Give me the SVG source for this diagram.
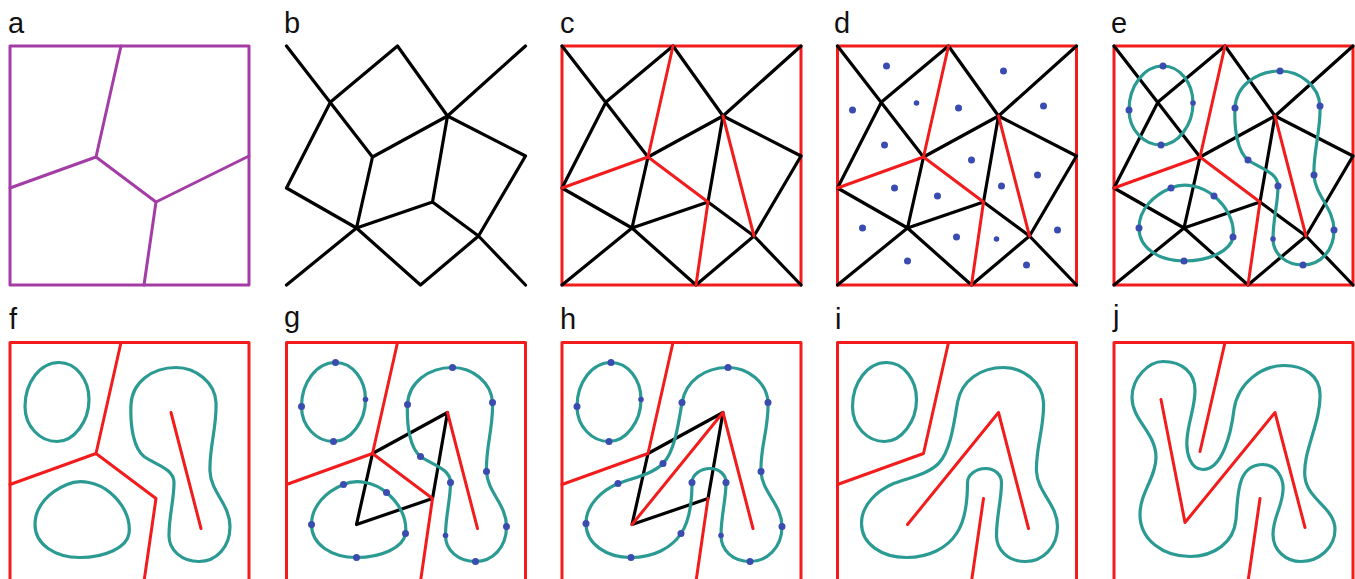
<svg xmlns="http://www.w3.org/2000/svg" xmlns:xlink="http://www.w3.org/1999/xlink" width="1355" height="579" viewBox="0 0 1355 579">
<style>
.lbl{font-family:"Liberation Sans",Arial,sans-serif;font-size:29px;fill:#111}
.k{stroke:#000;stroke-width:3.2;fill:none;stroke-linecap:round;stroke-linejoin:round}
.r{stroke:#f21c1c;stroke-width:3;fill:none;stroke-linecap:round;stroke-linejoin:round}
.p{stroke:#a43ca6;stroke-width:3;fill:none;stroke-linecap:round;stroke-linejoin:round}
.t{stroke:#2a9a93;stroke-width:3.2;fill:none}
.d{fill:#3a4cb0}
</style>
<defs>
<rect id="box" x="0" y="0" width="239" height="239"/>
<path id="mesh" d="M0,0L86,111 M44,56L111,0L161,70L239,0 M44,56L0,142L70,182 M86,111L161,70 M86,111L70,182 M161,70L146,156 M161,70L239,110L192,190 M146,156L70,182 M146,156L192,190L239,239 M70,182L0,239 M70,182L134,239L192,190"/>
<path id="vor" d="M111,0L86,111L0,142 M86,111L146,156L134,239"/>
<path id="quad" d="M86,111L161,70L146,156L70,182Z"/>
<path id="c1" d="M49,20C66,20 79,37 79,57C79,79 64,99 47,99C30,99 15,84 15,64C15,40 30,20 49,20Z"/>
<path id="c2" d="M166,25C186,25 205,40 206,60C207,85 199,105 200,129C201,150 220,162 220,184C220,205 206,219 189,219C172,219 159,208 159,193C159,173 164,158 164,140C164,126 145,122 134,114C124,106 120,85 121,62C122,40 142,25 166,25Z"/>
<path id="c3" d="M57,142C70,136 88,140 100,150C112,160 121,175 119,191C117,205 95,215 70,215C45,215 25,202 25,182C25,163 40,149 57,142Z"/>
<path id="cm" d="M166,25C186,25 205,40 206,60C207,85 198,105 199,129C200,150 220,162 220,184C220,205 205,219 188,219C171,219 159,208 159,193C159,173 164,158 164,140C164,132 157,126 148,126C139,126 130,132 130,140C130,160 128,178 119,191C110,205 92,215 69,215C45,215 24,202 24,181C24,162 40,148 56,141C72,135 90,132 101,121C112,110 116,85 120,60C124,38 143,25 166,25Z"/>
<path id="cj" d="M49,19C35,19 18,35 18,55C18,78 42,90 42,115C42,135 26,150 26,172C26,198 50,214 76,214C100,214 120,200 122,177C124,155 122,122 149,122C162,122 170,135 169,148C168,165 159,175 159,192C159,208 172,219 187,219C205,219 221,205 221,187C221,165 194,158 191,135C188,110 207,80 206,52C206,33 190,23 170,23C148,23 124,40 120,67C117,92 108,127 89,127C76,127 72,110 73,97C74,80 81,65 81,48C81,30 68,19 49,19Z"/>
<g id="dots1" class="d"><circle cx="49" cy="20" r="3.5"/><circle cx="79" cy="57" r="2.8"/><circle cx="47" cy="99" r="3.5"/><circle cx="15" cy="64" r="3.5"/></g>
<g id="dots2" class="d"><circle cx="166" cy="25" r="3.5"/><circle cx="206" cy="60" r="3.5"/><circle cx="121" cy="62" r="3.5"/><circle cx="134" cy="114" r="3.5"/><circle cx="200" cy="129" r="3.5"/><circle cx="164" cy="140" r="3.5"/><circle cx="220" cy="184" r="3.5"/><circle cx="159" cy="193" r="2.8"/><circle cx="189" cy="219" r="3.5"/></g>
<g id="dots3" class="d"><circle cx="57" cy="142" r="3.5"/><circle cx="100" cy="150" r="3.5"/><circle cx="25" cy="182" r="3.5"/><circle cx="119" cy="191" r="3.5"/><circle cx="70" cy="215" r="3.5"/></g>
<g id="dotsm" class="d"><circle cx="166" cy="25" r="3.5"/><circle cx="206" cy="60" r="3.5"/><circle cx="120" cy="60" r="3.5"/><circle cx="101" cy="121" r="3.5"/><circle cx="56" cy="141" r="3.5"/><circle cx="24" cy="181" r="3.5"/><circle cx="69" cy="215" r="3.5"/><circle cx="119" cy="191" r="3.5"/><circle cx="130" cy="140" r="3.5"/><circle cx="164" cy="140" r="3.5"/><circle cx="199" cy="129" r="3.5"/><circle cx="220" cy="184" r="3.5"/><circle cx="159" cy="193" r="2.8"/><circle cx="188" cy="219" r="3.5"/></g>
</defs>

<g id="labels">
<text class="lbl" x="8" y="33">a</text>
<text class="lbl" x="284" y="33">b</text>
<text class="lbl" x="560" y="33">c</text>
<text class="lbl" x="834" y="33">d</text>
<text class="lbl" x="1111" y="33">e</text>
<text class="lbl" x="9" y="329">f</text>
<text class="lbl" x="284" y="327">g</text>
<text class="lbl" x="560" y="329">h</text>
<text class="lbl" x="835" y="329">i</text>
<text class="lbl" x="1113" y="326">j</text>
</g>

<g id="panel-a" transform="translate(10,46)">
<use xlink:href="#box" class="p"/>
<use xlink:href="#vor" class="p"/>
<path class="p" d="M146,156L239,110"/>
</g>

<g id="panel-b" transform="translate(286.5,46)">
<use xlink:href="#mesh" class="k"/>
</g>

<g id="panel-c" transform="translate(562,46)">
<use xlink:href="#box" class="r"/>
<use xlink:href="#mesh" class="k"/>
<use xlink:href="#vor" class="r"/>
<path class="r" d="M161,70L192,190"/>
</g>

<g id="panel-d" transform="translate(837.5,46)">
<use xlink:href="#box" class="r"/>
<use xlink:href="#mesh" class="k"/>
<use xlink:href="#vor" class="r"/>
<path class="r" d="M161,70L192,190"/>
<use xlink:href="#dots1"/>
<use xlink:href="#dots2"/>
<use xlink:href="#dots3"/>
</g>

<g id="panel-e" transform="translate(1114,46)">
<use xlink:href="#box" class="r"/>
<use xlink:href="#mesh" class="k"/>
<use xlink:href="#vor" class="r"/>
<path class="r" d="M161,70L192,190"/>
<use xlink:href="#c1" class="t"/>
<use xlink:href="#c2" class="t"/>
<use xlink:href="#c3" class="t"/>
<use xlink:href="#dots1"/>
<use xlink:href="#dots2"/>
<use xlink:href="#dots3"/>
</g>

<g id="panel-f" transform="translate(10,342.5)">
<use xlink:href="#box" class="r"/>
<use xlink:href="#vor" class="r"/>
<path class="r" d="M161,70L191,186"/>
<use xlink:href="#c1" class="t"/>
<use xlink:href="#c2" class="t"/>
<use xlink:href="#c3" class="t"/>
</g>

<g id="panel-g" transform="translate(286.5,342.5)">
<use xlink:href="#box" class="r"/>
<use xlink:href="#quad" class="k"/>
<use xlink:href="#vor" class="r"/>
<path class="r" d="M161,70L191,186"/>
<use xlink:href="#c1" class="t"/>
<use xlink:href="#c2" class="t"/>
<use xlink:href="#c3" class="t"/>
<use xlink:href="#dots1"/>
<use xlink:href="#dots2"/>
<use xlink:href="#dots3"/>
</g>

<g id="panel-h" transform="translate(562,342.5)">
<use xlink:href="#box" class="r"/>
<use xlink:href="#quad" class="k"/>
<path class="r" d="M111,0L86,111L0,142 M146,156L134,239 M70,182L161,70L191,186"/>
<use xlink:href="#c1" class="t"/>
<use xlink:href="#cm" class="t"/>
<use xlink:href="#dots1"/>
<use xlink:href="#dotsm"/>
</g>

<g id="panel-i" transform="translate(837.5,342.5)">
<use xlink:href="#box" class="r"/>
<path class="r" d="M111,0L86,111L0,142 M146,156L134,239 M70,182L161,70L191,186"/>
<use xlink:href="#c1" class="t"/>
<use xlink:href="#cm" class="t"/>
</g>

<g id="panel-j" transform="translate(1114,342.5)">
<use xlink:href="#box" class="r"/>
<path class="r" d="M111,0L86,109 M47,57L71,180L161,70L191,185 M146,156L134,239"/>
<use xlink:href="#cj" class="t"/>
</g>
</svg>
